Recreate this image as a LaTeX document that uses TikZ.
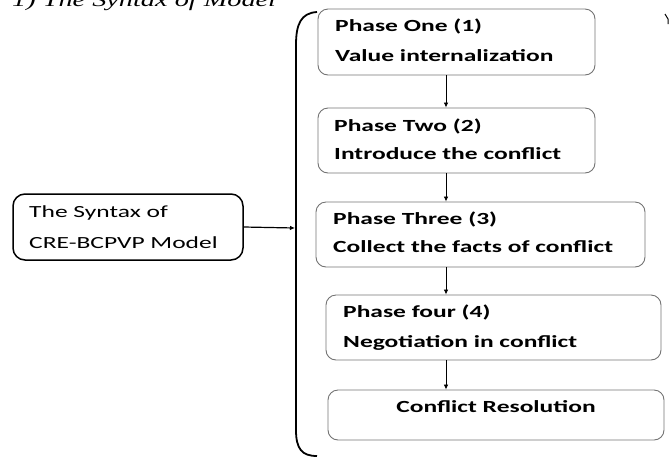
\documentclass[tikz,border=0pt]{standalone}
\usepackage{fontspec}
\setmainfont{Carlito}[FakeStretch=1.5]
\newfontfamily\titlefont{Liberation Serif}[FakeStretch=1.45]
\usetikzlibrary{arrows.meta}

\tikzset{
  phasebox/.style={draw=black!55, line width=0.9pt, rounded corners=10pt},
  phasetext/.style={anchor=base west, inner sep=0pt, font=\bfseries\fontsize{17}{20}\selectfont},
  flow/.style={-{Latex[length=5pt,width=4.5pt]}, line width=0.8pt}
}

\begin{document}
\begin{tikzpicture}[x=1pt,y=-1pt]
   \useasboundingbox (0,0) rectangle (670,459);

   % heading, cut at the top of the page
   \node[anchor=base west, inner sep=0pt, font=\titlefont\itshape\fontsize{19.5}{22}\selectfont] (title) at (12,6.5) {1) The Syntax of Model};

   % left box
   \node[draw=black, line width=1.5pt, rounded corners=12pt, minimum width=230pt, minimum height=66pt] (syntax) at (128,227) {};
   \node[anchor=base west, inner sep=0pt, font=\fontsize{17}{20}\selectfont] (syntaxa) at (29,217) {The Syntax of};
   \node[anchor=base west, inner sep=0pt, font=\fontsize{17}{20}\selectfont] (syntaxb) at (29,248) {CRE-BCPVP Model};

   % bracket
   \draw[line width=1.8pt] (317,12) .. controls (301,13) and (296,24) .. (296,45) -- (296,430) .. controls (296,449) and (302,456) .. (317,456);
   \coordinate (brace) at (295,228);
   \draw[flow, line width=1.2pt] (syntax.east) -- (brace);

   % phases
   \node[phasebox, minimum width=277pt, minimum height=66pt] (p1) at (456.5,42) {};
   \node[phasebox, minimum width=277pt, minimum height=65pt] (p2) at (456.5,140.5) {};
   \node[phasebox, minimum width=329pt, minimum height=65pt] (p3) at (480.5,234.5) {};
   \node[phasebox, minimum width=335pt, minimum height=65pt] (p4) at (493.5,327.5) {};
   \node[phasebox, minimum width=336pt, minimum height=50pt] (p5) at (496,415) {};

   \node[phasetext] (p1a) at (335,31) {Phase One (1)};
   \node[phasetext] (p1b) at (335,61) {Value internalization};
   \node[phasetext] (p2a) at (334,131) {Phase Two (2)};
   \node[phasetext] (p2b) at (334,159) {Introduce the conflict};
   \node[phasetext] (p3a) at (333,224) {Phase Three (3)};
   \node[phasetext] (p3b) at (333,252) {Collect the facts of conflict};
   \node[phasetext] (p4a) at (343,317) {Phase four (4)};
   \node[phasetext] (p4b) at (343,347) {Negotiation in conflict};
   \node[phasetext, anchor=base] (p5a) at (496,412) {Conflict Resolution};

   \coordinate (ax) at (446,0);
   \draw[flow] (p1.south -| ax) -- (p2.north -| ax);
   \draw[flow] (p2.south -| ax) -- (p3.north -| ax);
   \draw[flow] (p3.south -| ax) -- (p4.north -| ax);
   \draw[flow] (p4.south -| ax) -- (p5.north -| ax);

   % mark at the right edge
   \draw[line width=1pt] (665,14) -- (668,19) -- (668,24);
\end{tikzpicture}
\end{document}
